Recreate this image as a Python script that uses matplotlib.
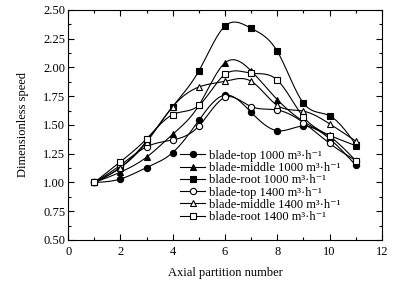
import numpy as np
import matplotlib
matplotlib.use("Agg")
import matplotlib.pyplot as plt
from matplotlib.ticker import MultipleLocator

plt.rcParams['font.family'] = ['Liberation Serif', 'DejaVu Serif']

x = [1, 2, 3, 4, 5, 6, 7, 8, 9, 10, 11]
top_1000 = [1.00, 1.03, 1.13, 1.26, 1.54, 1.76, 1.61, 1.45, 1.49, 1.38, 1.15]
middle_1000 = [1.00, 1.09, 1.22, 1.42, 1.67, 2.04, 1.97, 1.72, 1.53, 1.41, 1.32]
root_1000 = [1.00, 1.13, 1.36, 1.66, 1.97, 2.36, 2.34, 2.14, 1.69, 1.58, 1.33]
top_1400 = [1.00, 1.15, 1.31, 1.37, 1.49, 1.74, 1.66, 1.63, 1.52, 1.34, 1.19]
middle_1400 = [1.00, 1.13, 1.35, 1.66, 1.83, 1.88, 1.88, 1.67, 1.62, 1.51, 1.36]
root_1400 = [1.00, 1.18, 1.38, 1.59, 1.67, 1.94, 1.95, 1.89, 1.57, 1.40, 1.19]

labels = [
    'blade-top 1000 m³·h⁻¹',
    'blade-middle 1000 m³·h⁻¹',
    'blade-root 1000 m³·h⁻¹',
    'blade-top 1400 m³·h⁻¹',
    'blade-middle 1400 m³·h⁻¹',
    'blade-root 1400 m³·h⁻¹',
]
series = [top_1000, middle_1000, root_1000, top_1400, middle_1400, root_1400]
markers = ['o', '^', 's', 'o', '^', 's']
fills = ['black', 'black', 'black', 'white', 'white', 'white']


def natural_spline(xs, ys, n=400):
    xs = np.asarray(xs, float)
    ys = np.asarray(ys, float)
    m = len(xs)
    h = np.diff(xs)
    A = np.zeros((m, m))
    b = np.zeros(m)
    A[0, 0] = 1
    A[-1, -1] = 1
    for i in range(1, m - 1):
        A[i, i - 1] = h[i - 1]
        A[i, i] = 2 * (h[i - 1] + h[i])
        A[i, i + 1] = h[i]
        b[i] = 3 * ((ys[i + 1] - ys[i]) / h[i] - (ys[i] - ys[i - 1]) / h[i - 1])
    c = np.linalg.solve(A, b)
    xf = np.linspace(xs[0], xs[-1], n)
    yf = np.empty_like(xf)
    for k, xv in enumerate(xf):
        i = min(np.searchsorted(xs, xv, side='right') - 1, m - 2)
        dx = xv - xs[i]
        bb = (ys[i + 1] - ys[i]) / h[i] - h[i] * (2 * c[i] + c[i + 1]) / 3
        d = (c[i + 1] - c[i]) / (3 * h[i])
        yf[k] = ys[i] + bb * dx + c[i] * dx ** 2 + d * dx ** 3
    return xf, yf


fig = plt.figure(figsize=(4.08, 2.84), dpi=100)
ax = fig.add_axes([0.167, 0.155, 0.769, 0.810])

handles = []
for ys, mk, fc, lab in zip(series, markers, fills, labels):
    xf, yf = natural_spline(x, ys)
    ax.plot(xf, yf, color='black', lw=0.8, zorder=2)
    ax.plot(x, ys, linestyle='none', marker=mk, ms=4.5, mfc=fc, mec='black',
            mew=0.8, zorder=3)
    h, = ax.plot([], [], color='black', lw=0.8, marker=mk, ms=4.5, mfc=fc,
                 mec='black', mew=0.8, label=lab)
    handles.append(h)

ax.set_xlim(0, 12)
ax.set_ylim(0.5, 2.5)
ax.xaxis.set_major_locator(MultipleLocator(2))
ax.xaxis.set_minor_locator(MultipleLocator(1))
ax.yaxis.set_major_locator(MultipleLocator(0.25))
ax.yaxis.set_minor_locator(MultipleLocator(0.125))
ax.yaxis.set_major_formatter(matplotlib.ticker.FormatStrFormatter('%.2f'))
ax.tick_params(which='both', direction='in', top=True, right=True,
               labelsize=9, width=0.8)
ax.tick_params(axis='x', pad=4)
ax.tick_params(axis='y', pad=2)
ax.tick_params(which='major', length=4)
ax.tick_params(which='minor', length=2)
for s in ax.spines.values():
    s.set_linewidth(0.8)

ax.set_xlabel('Axial partition number', fontsize=9, labelpad=7)
ax.set_ylabel('Dimensionless speed', fontsize=9, labelpad=10)

ax.legend(handles=handles, loc='upper left', bbox_to_anchor=(0.33, 0.43),
          frameon=False, fontsize=9, handlelength=2.0, handletextpad=0.3,
          labelspacing=0.02, borderpad=0.2)

fig.savefig('out.png', dpi=100)
